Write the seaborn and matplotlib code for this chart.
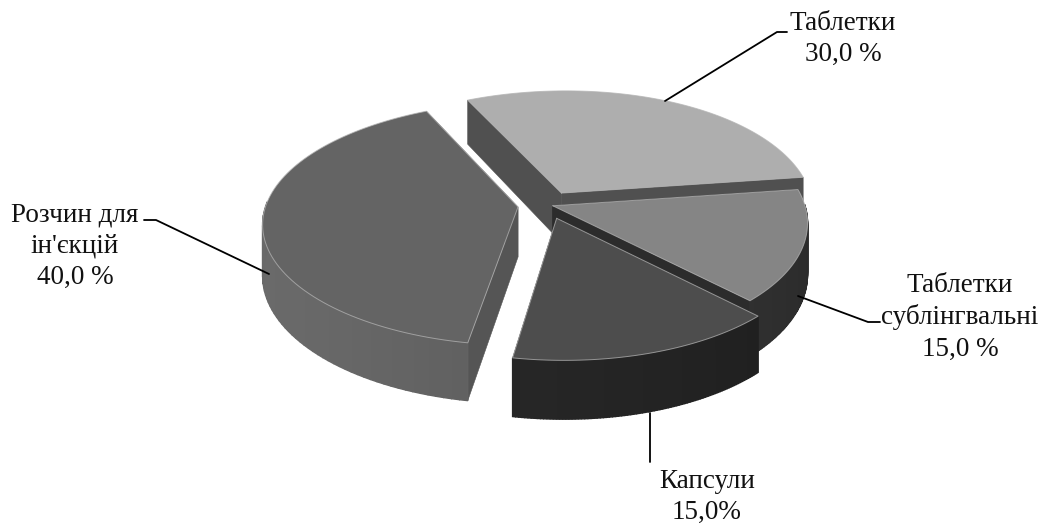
import numpy as np
import matplotlib
matplotlib.use("Agg")
import matplotlib.pyplot as plt
import seaborn as sns

# ---- data ----
categories = ["Таблетки", "Таблетки\nсублінгвальні", "Капсули", "Розчин для\nін'єкцій"]
values = [30.0, 15.0, 15.0, 40.0]
value_labels = ["30,0 %", "15,0 %", "15,0%", "40,0 %"]

# ---- style ----
explode = [0.115, 0.02, 0.115, 0.12]
top_colors = ["#aeaeae", "#858585", "#4d4d4d", "#646464"]
cut_colors = ["#505050", "#2c2c2c", "#2a2a2a", "#555555"]
wall_colors = ["#555555", "#343434", "#232323", "#585858"]
label_pos = [(843, 39), (960, 317), (707, 497), (75, 246)]
leaders = [
    [(665, 101), (777, 32), (787, 32)],
    [(798, 296), (868, 322), (880, 322)],
    [(650, 413), (650, 462)],
    [(269, 274), (156, 220), (144, 220)],
]
CX, CY = 548, 205
RX, RY, DEPTH, PERSP, BOW = 252, 119, 50, 0.135, 5
START = 116.0

sns.set_theme(style="white")
plt.rcParams["font.family"] = ["Liberation Serif", "DejaVu Serif"]

fig, ax = plt.subplots(figsize=(10.45, 5.24), dpi=100)
fig.subplots_adjust(0, 0, 1, 1)
ax.set_xlim(0, 1045)
ax.set_ylim(524, 0)
ax.axis("off")


def project(x, y, z=0.0):
    x, y = np.asarray(x, float), np.asarray(y, float)
    w = 1 + PERSP * y
    return CX + RX * x / w + BOW * y ** 2, CY - RY * y / w + DEPTH * z / w


def quad(p, q, color, zorder):
    ax.fill([p[0][0], q[0][0], q[1][0], p[1][0]],
            [p[0][1], q[0][1], q[1][1], p[1][1]],
            color=color, lw=1.0, zorder=zorder)


def shade(color, f):
    rgb = np.clip(np.array(matplotlib.colors.to_rgb(color)) * f, 0, 1)
    return tuple(rgb)


fracs = np.array(values) / sum(values) * 360
ends = START - np.cumsum(fracs)
starts = ends + fracs

for i in range(len(values)):
    a0, a1 = starts[i], ends[i]
    mid = np.radians((a0 + a1) / 2)
    ox, oy = explode[i] * np.cos(mid), explode[i] * np.sin(mid)
    t = np.radians(np.linspace(a0, a1, 90))
    xs, ys = ox + np.cos(t), oy + np.sin(t)
    z0 = i * 10

    # cut faces
    for k in (0, -1):
        px0, py0 = project([ox, xs[k]], [oy, ys[k]])
        px1, py1 = project([ox, xs[k]], [oy, ys[k]], 1.0)
        poly_x = [px0[0], px0[1], px1[1], px1[0]]
        poly_y = [py0[0], py0[1], py1[1], py1[0]]
        ax.fill(poly_x, poly_y, color=cut_colors[i], lw=0.4, zorder=z0 + 1)

    # outer wall with a soft gradient: only the part that faces the viewer
    tx, ty = project(xs, ys)
    bx, by = project(xs, ys, 1.0)
    for j in range(len(t) - 1):
        if np.sin(t[j]) > 0.02:
            continue
        f = 1.0 + 0.2 * np.cos(t[j] - np.radians(200))
        quad([(tx[j], ty[j]), (bx[j], by[j])],
             [(tx[j + 1], ty[j + 1]), (bx[j + 1], by[j + 1])],
             shade(wall_colors[i], f), z0 + 2)

    # top surface
    ax_, ay_ = project(ox, oy)
    ax.fill(np.r_[ax_, tx], np.r_[ay_, ty], color=top_colors[i], lw=0, zorder=z0 + 3)
    ax.plot(np.r_[ax_, tx, ax_], np.r_[ay_, ty, ay_], color="#b4b4b4", lw=0.7,
            alpha=0.75, zorder=z0 + 4, solid_joinstyle="round")

for (lx, ly), cat, val, path in zip(label_pos, categories, value_labels, leaders):
    ax.text(lx, ly, f"{cat}\n{val}", ha="center", va="center", fontsize=19.5,
            color="#111111", linespacing=1.33, zorder=100)
    p = np.array(path)
    ax.plot(p[:, 0], p[:, 1], color="black", lw=1.3, zorder=99)

fig.savefig("out.png", dpi=100, facecolor="white")
